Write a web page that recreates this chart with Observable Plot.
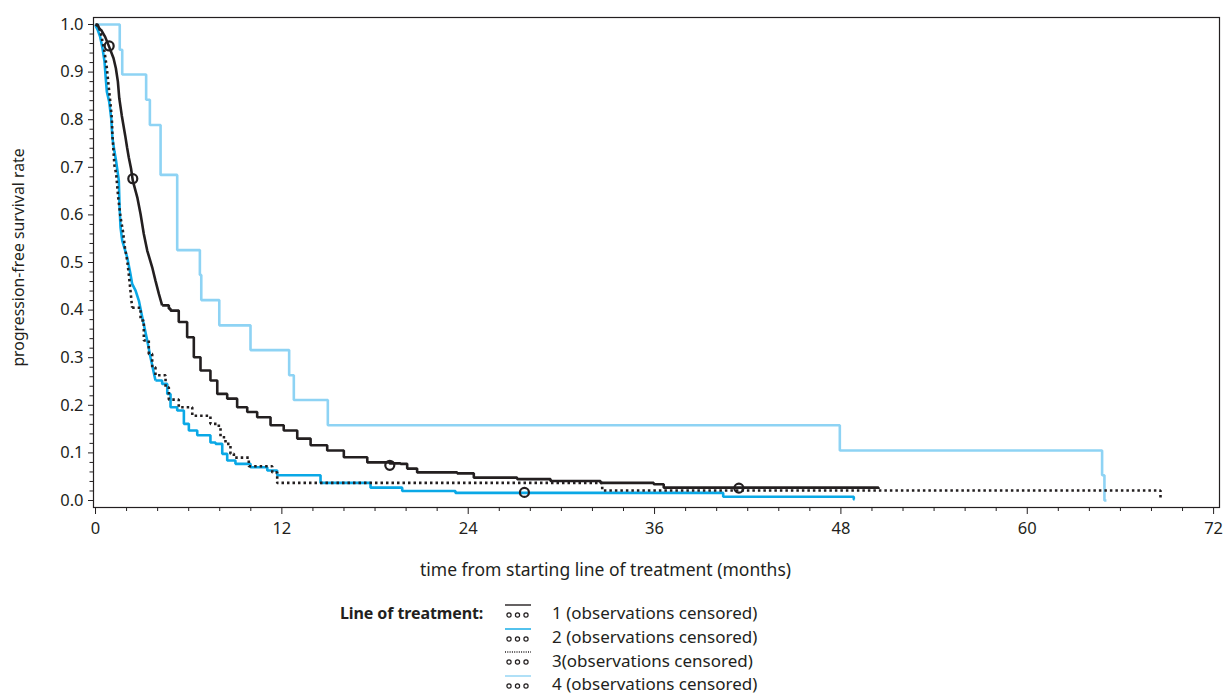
<!DOCTYPE html>
<html>
<head>
<meta charset="utf-8">
<script src="https://cdn.jsdelivr.net/npm/d3@7"></script>
<script src="https://cdn.jsdelivr.net/npm/@observablehq/plot@0.6"></script>
<style>
  html, body { margin: 0; padding: 0; background: #fff; }
  body { width: 1223px; height: 693px; position: relative; font-family: "Noto Sans", sans-serif; color: #231f20; }
  #legend { position: absolute; left: 340px; top: 601px; display: flex; align-items: flex-start; font-size: 17px; }
  #legend .title { font-weight: bold; font-size: 16px; width: 147px; line-height: 24px; white-space: nowrap; letter-spacing: -0.1px; }
  #legend .rows { margin-left: 18px; }
  #legend .row { display: flex; align-items: center; height: 23.7px; white-space: nowrap; }
  #legend .row svg { display: block; margin-right: 21px; }
</style>
</head>
<body>
<div id="chart"></div>
<div id="legend"></div>
<script>
// ---- data ----
const time1 = [0,0.13,0.26,0.37,0.62,0.88,1.16,1.31,1.44,1.53,1.69,1.91,2.03,2.14,2.29,2.40,2.69,2.90,3.11,3.33,3.65,3.86,4.08,4.29,4.72,4.83,5.36,5.90,6.33,6.76,7.40,7.84,8.48,9.12,9.77,10.41,11.27,12.12,12.99,13.85,14.92,15.99,17.50,18.93,19.64,20.07,20.71,23.29,24.36,27.15,29.30,32.52,35.95,36.59,50.42];
const surv1 = [1.0,1.0,0.99,0.988,0.974,0.953,0.929,0.908,0.880,0.845,0.809,0.767,0.742,0.721,0.697,0.672,0.637,0.602,0.560,0.525,0.490,0.462,0.434,0.410,0.403,0.399,0.375,0.343,0.301,0.273,0.252,0.224,0.214,0.196,0.186,0.175,0.158,0.147,0.130,0.116,0.105,0.091,0.080,0.078,0.077,0.067,0.059,0.057,0.048,0.045,0.041,0.037,0.034,0.027,0.024];

const time2 = [0,0.03,0.15,0.30,0.45,0.58,0.66,0.73,0.88,1.01,1.09,1.22,1.33,1.50,1.55,1.61,1.72,2.04,2.25,2.36,2.58,2.79,3.01,3.33,3.54,3.86,4.29,4.62,4.83,5.26,5.69,6.01,6.55,7.40,7.73,8.16,8.48,9.01,9.98,11.06,11.70,14.49,17.71,19.75,23.18,40.42,48.83,48.87];
const surv2 = [1.0,0.996,0.988,0.974,0.950,0.922,0.887,0.859,0.838,0.803,0.761,0.733,0.712,0.672,0.616,0.574,0.546,0.511,0.476,0.455,0.441,0.420,0.385,0.336,0.301,0.252,0.245,0.224,0.196,0.189,0.161,0.147,0.137,0.122,0.119,0.098,0.084,0.077,0.070,0.063,0.053,0.037,0.027,0.020,0.016,0.008,0.002,0.002];

const time3 = [0,0.24,0.41,0.58,0.73,0.84,0.95,1.05,1.09,1.16,1.22,1.33,1.46,1.61,1.76,1.89,2.04,2.14,2.25,2.36,2.90,3.11,3.43,3.65,3.86,4.51,4.72,5.36,6.23,7.40,7.94,8.05,8.37,8.69,8.91,9.87,11.38,11.70,32.63,68.58,68.65];
const surv3 = [1.0,0.995,0.971,0.943,0.908,0.872,0.838,0.803,0.767,0.733,0.704,0.686,0.637,0.595,0.567,0.532,0.504,0.476,0.441,0.405,0.378,0.336,0.308,0.280,0.263,0.238,0.212,0.196,0.178,0.161,0.154,0.133,0.119,0.098,0.090,0.072,0.059,0.037,0.021,0.004,0.004];

const time4 = [0,1.56,1.72,3.26,3.50,4.19,5.26,6.72,6.81,7.97,9.98,12.47,12.77,14.96,47.93,64.82,64.97,65.10];
const surv4 = [1.0,0.947,0.895,0.842,0.789,0.684,0.526,0.474,0.421,0.368,0.316,0.263,0.211,0.158,0.105,0.053,0.0,0.0];

const censTime1 = [0.88, 2.40, 18.95, 41.43];
const censSurv1 = [0.955, 0.676, 0.074, 0.026];
const censTime2 = [27.62];
const censSurv2 = [0.017];

const seriesNames = ["1 (observations censored)", "2 (observations censored)", "3(observations censored)", "4 (observations censored)"];
const seriesColors = ["#231f20", "#0aa8e6", "#231f20", "#8ed3f4"];
const seriesDash = [null, null, "2.5,3", null];
// the steep early part of the dense curves is traced as a line, the rest as KM steps
const steepUntil = [4.29, 3.86, 2.36, 0];

const xMajorTicks = [0, 12, 24, 36, 48, 60, 72];
const xMinorTicks = [2,4,6,8,10,14,16,18,20,22,26,28,30,32,34,38,40,42,44,46,50,52,54,56,58,62,64,66,68,70];
const yMajorTicks = [0.0,0.1,0.2,0.3,0.4,0.5,0.6,0.7,0.8,0.9,1.0];
const yMinorTicks = [0.02,0.04,0.06,0.08,0.12,0.14,0.16,0.18,0.22,0.24,0.26,0.28,0.32,0.34,0.36,0.38,0.42,0.44,0.46,0.48,0.52,0.54,0.56,0.58,0.62,0.64,0.66,0.68,0.72,0.74,0.76,0.78,0.82,0.84,0.86,0.88,0.92,0.94,0.96,0.98];

const xLabel = "time from starting line of treatment (months)";
const yLabel = "progression-free survival rate";
const legendTitle = "Line of treatment:";

// ---- build tables ----
const toRows = (ts, ss) => ts.map((t, i) => ({t, s: ss[i]}));
const curves = [
  toRows(time1, surv1),
  toRows(time2, surv2),
  toRows(time3, surv3),
  toRows(time4, surv4)
];
const censored = [...toRows(censTime1, censSurv1), ...toRows(censTime2, censSurv2)];

const drawOrder = [3, 1, 2, 0];
const ink = "#231f20";

const lineStyle = i => ({
  x: "t", y: "s",
  stroke: seriesColors[i], strokeWidth: 2.6,
  strokeDasharray: seriesDash[i] ?? undefined,
  strokeLinecap: "butt", strokeLinejoin: "miter"
});

const chart = Plot.plot({
  width: 1223,
  height: 585,
  marginLeft: 93,
  marginRight: 4,
  marginTop: 17,
  marginBottom: 78,
  style: {fontFamily: "'Noto Sans', sans-serif", fontSize: "16.5px", color: ink, background: "white"},
  x: {domain: [-0.13, 72.38]},
  y: {domain: [-0.0147, 1.0147]},
  marks: [
    ...drawOrder.flatMap(i => [
      Plot.line(curves[i].filter(d => d.t <= steepUntil[i]), {...lineStyle(i), curve: "linear"}),
      Plot.line(curves[i].filter(d => d.t >= steepUntil[i]), {...lineStyle(i), curve: "step-after"})
    ]),
    Plot.dot(censored, {x: "t", y: "s", r: 4.5, stroke: ink, strokeWidth: 2.2, fill: "none"}),
    Plot.frame({stroke: ink, strokeWidth: 1.2}),
    Plot.axisX({ticks: xMajorTicks, tickSize: 7, tickPadding: 8, tickFormat: d => d, label: null, stroke: ink}),
    Plot.axisX({ticks: xMinorTicks, tickSize: 4, tickFormat: () => "", label: null, stroke: ink}),
    Plot.axisY({ticks: yMajorTicks, tickSize: 5, tickPadding: 5, tickFormat: d3.format(".1f"), label: null, stroke: ink}),
    Plot.axisY({ticks: yMinorTicks, tickSize: 3.5, tickFormat: () => "", label: null, stroke: ink}),
    Plot.text([xLabel], {frameAnchor: "bottom", dx: -51, dy: 68, fontSize: 17.5, fill: ink}),
    Plot.text([yLabel], {frameAnchor: "left", textAnchor: "middle", rotate: -90, dx: -75, dy: -5, fontSize: 15.8, fill: ink})
  ]
});
document.getElementById("chart").appendChild(chart);

// ---- legend ----
const legend = document.getElementById("legend");
const title = document.createElement("div");
title.className = "title";
title.textContent = legendTitle;
legend.appendChild(title);
const rows = document.createElement("div");
rows.className = "rows";
seriesNames.forEach((name, i) => {
  const row = document.createElement("div");
  row.className = "row";
  const svg = d3.create("svg").attr("width", 26).attr("height", 22);
  svg.append("line").attr("x1", 0).attr("x2", 26).attr("y1", 3).attr("y2", 3)
    .attr("stroke", seriesColors[i]).attr("stroke-width", 1.4)
    .attr("stroke-dasharray", seriesDash[i] ? "1,1.3" : null);
  [4, 12.5, 21].forEach(cx => svg.append("circle").attr("cx", cx).attr("cy", 13).attr("r", 2.1)
    .attr("fill", "none").attr("stroke", ink).attr("stroke-width", 1.2));
  row.appendChild(svg.node());
  const span = document.createElement("span");
  span.textContent = name;
  row.appendChild(span);
  rows.appendChild(row);
});
legend.appendChild(rows);
</script>
</body>
</html>
